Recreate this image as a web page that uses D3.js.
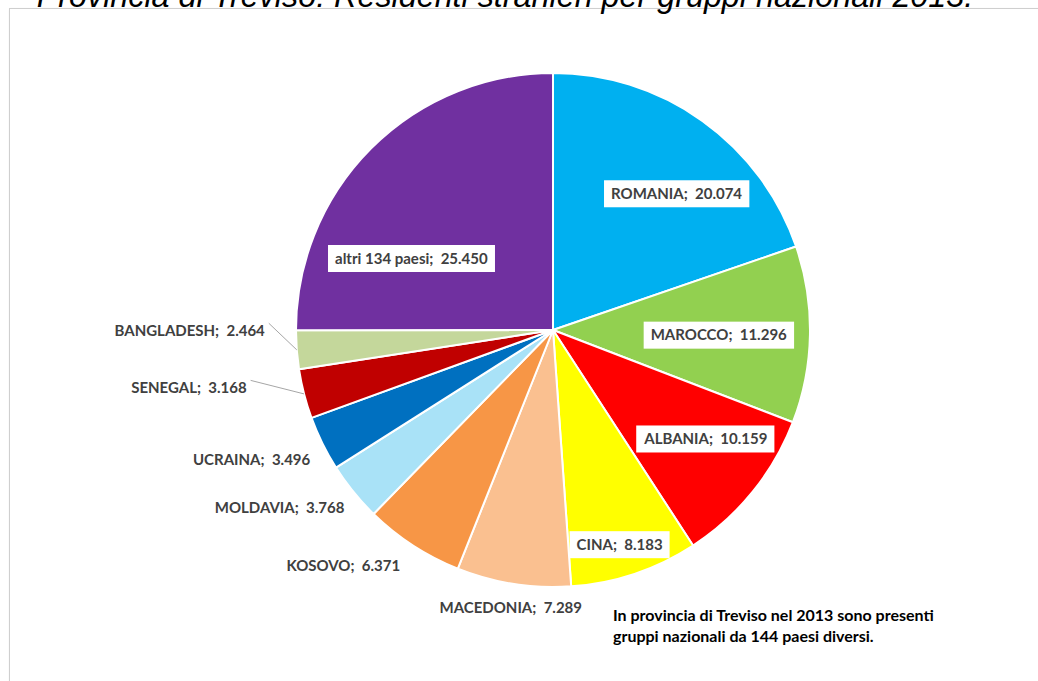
<!DOCTYPE html>
<html>
<head>
<meta charset="utf-8">
<script src="https://cdn.jsdelivr.net/npm/d3@7/dist/d3.min.js"></script>
<style>
  html, body { margin: 0; padding: 0; background: #ffffff; }
  svg { display: block; }
</style>
</head>
<body>
<svg id="chart" width="1038" height="681"></svg>
<script>
// Residenti stranieri in provincia di Treviso, 2013, per gruppo nazionale
const countries = ["ROMANIA", "MAROCCO", "ALBANIA", "CINA", "MACEDONIA", "KOSOVO",
                   "MOLDAVIA", "UCRAINA", "SENEGAL", "BANGLADESH", "altri 134 paesi"];
const residents = [20074, 11296, 10159, 8183, 7289, 6371, 3768, 3496, 3168, 2464, 25450];
const sliceColors = ["#00B0F0", "#92D050", "#FF0000", "#FFFF00", "#FAC090", "#F79646",
                     "#A9E2F7", "#0070C0", "#C00000", "#C4D79B", "#7030A0"];
const titleText = "Provincia di Treviso: Residenti stranieri per gruppi nazionali 2013.";
const noteLines = ["In provincia di Treviso nel 2013 sono presenti",
                   "gruppi nazionali da 144 paesi diversi."];

const data = countries.map((c, i) => ({ name: c, value: residents[i], color: sliceColors[i] }));

// labels drawn inside the slices on a white box
const insideLabels = new Set(["ROMANIA", "MAROCCO", "ALBANIA", "CINA", "altri 134 paesi"]);
// fine placement of labels (pixels), relative to the computed anchor
const labelNudge = {
  "ROMANIA": [22, 6], "MAROCCO": [-9, 2], "ALBANIA": [17, -1], "CINA": [11, 49],
  "altri 134 paesi": [-18, 52],
  "MACEDONIA": [0, 0], "KOSOVO": [-6, 0], "MOLDAVIA": [2, 0], "UCRAINA": [1, 3]
};
// labels pulled away from small slices, joined to them by a leader line
const leaderNudge = { "SENEGAL": [-43, -16], "BANGLADESH": [-17, -26] };

const svg = d3.select("#chart");
const cx = 553, cy = 330, R = 257;

// chart frame with a soft shadow
const defs = svg.append("defs");
const f = defs.append("filter").attr("id", "shadow").attr("x", "-5%").attr("y", "-5%")
  .attr("width", "110%").attr("height", "110%");
f.append("feDropShadow").attr("dx", 1).attr("dy", 1.5).attr("stdDeviation", 1.2)
  .attr("flood-color", "#000").attr("flood-opacity", 0.18);
svg.append("rect").attr("x", 9.5).attr("y", 8.5).attr("width", 1060).attr("height", 720)
  .attr("fill", "#fff").attr("stroke", "#cfcfcf").attr("stroke-width", 1)
  .attr("filter", "url(#shadow)");

// title, running off the top edge of the page
svg.append("text")
  .attr("x", 505).attr("y", 7)
  .attr("text-anchor", "middle")
  .style("font-family", "'Liberation Sans', Arial, sans-serif")
  .style("font-style", "italic")
  .style("font-size", "32.3px")
  .attr("fill", "#000")
  .text(titleText);

const pie = d3.pie().sort(null).value(d => d.value);
const arcs = pie(data);
const arc = d3.arc().innerRadius(0).outerRadius(R);

const g = svg.append("g").attr("transform", `translate(${cx},${cy})`);

g.selectAll("path.slice")
  .data(arcs)
  .join("path")
  .attr("class", "slice")
  .attr("d", arc)
  .attr("fill", d => d.data.color)
  .attr("stroke", "#ffffff")
  .attr("stroke-width", 2)
  .attr("stroke-linejoin", "round");

const fmt = d3.formatLocale({ decimal: ",", thousands: ".", grouping: [3], currency: ["", ""] }).format(",d");
const labelFont = "Lato, 'Open Sans', sans-serif";
const labelSize = 15;

const midAngle = d => (d.startAngle + d.endAngle) / 2;
const insideArc = d3.arc().innerRadius(R * 0.68).outerRadius(R * 0.68);

// inside labels with white boxes
arcs.filter(d => insideLabels.has(d.data.name)).forEach(d => {
  const [x0, y0] = insideArc.centroid(d);
  const [nx, ny] = labelNudge[d.data.name];
  const lg = g.append("g").attr("transform", `translate(${x0 + nx},${y0 + ny})`);
  const t = lg.append("text")
    .attr("text-anchor", "middle")
    .attr("dy", "0.35em")
    .style("font-family", labelFont)
    .style("font-weight", "700")
    .style("font-size", labelSize + "px")
    .attr("fill", "#404040")
    .attr("xml:space", "preserve")
    .text(d.data.name + ";  " + fmt(d.data.value));
  const bb = t.node().getBBox();
  lg.insert("rect", "text")
    .attr("x", bb.x - 7).attr("y", -13.5)
    .attr("width", bb.width + 14).attr("height", 27)
    .attr("fill", "#ffffff");
});

// outside labels
const outerR = R + 18;
arcs.filter(d => !insideLabels.has(d.data.name)).forEach(d => {
  const a = midAngle(d);
  const sx = Math.sin(a), cyv = -Math.cos(a);
  const px = sx * outerR, py = cyv * outerR;
  const name = d.data.name;
  const lead = leaderNudge[name];
  const [nx, ny] = lead || labelNudge[name];
  const bottom = Math.abs(sx) < 0.3;
  const lx = px + nx + (bottom ? 0 : 3);
  const ly = py + ny + (bottom ? 6 : 5);
  g.append("text")
    .attr("x", lx).attr("y", ly)
    .attr("text-anchor", bottom ? "middle" : (sx < 0 ? "end" : "start"))
    .attr("dy", "0.35em")
    .style("font-family", labelFont)
    .style("font-weight", "700")
    .style("font-size", labelSize + "px")
    .attr("fill", "#404040")
    .attr("xml:space", "preserve")
    .text(name + ";  " + fmt(d.data.value));
  if (lead) {
    const ex = sx * R, ey = cyv * R;
    g.append("line")
      .attr("x1", lx + 4).attr("y1", ly - 7)
      .attr("x2", ex).attr("y2", ey)
      .attr("stroke", "#a6a6a6")
      .attr("stroke-width", 1);
  }
});

// note
const note = svg.append("text")
  .attr("x", 613).attr("y", 621)
  .style("font-family", labelFont)
  .style("font-weight", "700")
  .style("font-size", "16px")
  .attr("fill", "#000");
noteLines.forEach((s, i) => {
  note.append("tspan").attr("x", 613).attr("dy", i === 0 ? 0 : 21).text(s);
});
</script>
</body>
</html>
